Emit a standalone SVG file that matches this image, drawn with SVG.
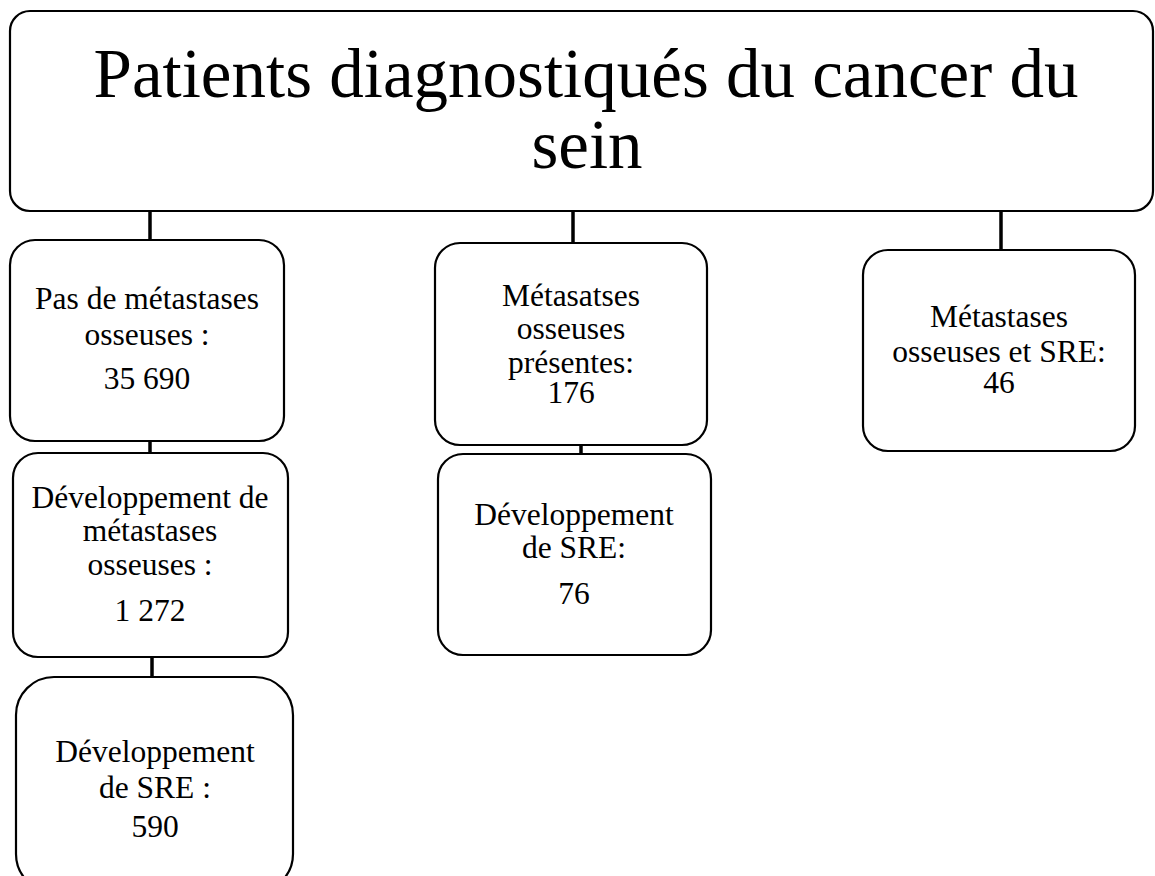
<svg xmlns="http://www.w3.org/2000/svg" width="1155" height="876" viewBox="0 0 1155 876">
<style>
.box{fill:#fff;stroke:#000;stroke-width:2.2}
.con{stroke:#000;stroke-width:3.5;fill:none}
text{font-family:"Liberation Serif","Times New Roman",serif;fill:#000;text-anchor:middle}
.t{font-size:69px}
.s{font-size:31.5px}
</style>
<rect width="1155" height="876" fill="#fff"/>
<g id="connectors">
<line class="con" x1="150" y1="211" x2="150" y2="240"/>
<line class="con" x1="573" y1="211" x2="573" y2="243"/>
<line class="con" x1="1001" y1="211" x2="1001" y2="250"/>
<line class="con" x1="150" y1="440" x2="150" y2="454"/>
<line class="con" x1="152" y1="656" x2="152" y2="678"/>
<line class="con" x1="581" y1="444" x2="581" y2="455"/>
</g>
<g id="root">
<rect class="box" x="10" y="11" width="1143" height="200" rx="20"/>
<text class="t" x="586" y="97">Patients diagnostiqués du cancer du</text>
<text class="t" x="587" y="168">sein</text>
</g>
<g id="n1">
<rect class="box" x="10" y="240" width="274" height="201" rx="25"/>
<text class="s" x="147" y="309">Pas de métastases</text>
<text class="s" x="147" y="345">osseuses :</text>
<text class="s" x="147" y="389">35 690</text>
</g>
<g id="n2">
<rect class="box" x="13" y="453" width="275" height="204" rx="25"/>
<text class="s" x="150" y="508">Développement de</text>
<text class="s" x="150" y="541">métastases</text>
<text class="s" x="150" y="575">osseuses :</text>
<text class="s" x="150" y="621">1 272</text>
</g>
<g id="n3">
<rect class="box" x="16" y="677" width="277" height="215" rx="38"/>
<text class="s" x="155" y="762">Développement</text>
<text class="s" x="155" y="798">de SRE :</text>
<text class="s" x="155" y="837">590</text>
</g>
<g id="n4">
<rect class="box" x="435" y="243" width="272" height="202" rx="25"/>
<text class="s" x="571" y="306">Métasatses</text>
<text class="s" x="571" y="339">osseuses</text>
<text class="s" x="571" y="373">présentes:</text>
<text class="s" x="571" y="403">176</text>
</g>
<g id="n5">
<rect class="box" x="438" y="454" width="273" height="201" rx="25"/>
<text class="s" x="574" y="525">Développement</text>
<text class="s" x="574" y="558">de SRE:</text>
<text class="s" x="574" y="604">76</text>
</g>
<g id="n6">
<rect class="box" x="863" y="250" width="272" height="201" rx="25"/>
<text class="s" x="999" y="327">Métastases</text>
<text class="s" x="999" y="362">osseuses et SRE:</text>
<text class="s" x="999" y="393">46</text>
</g>
</svg>
